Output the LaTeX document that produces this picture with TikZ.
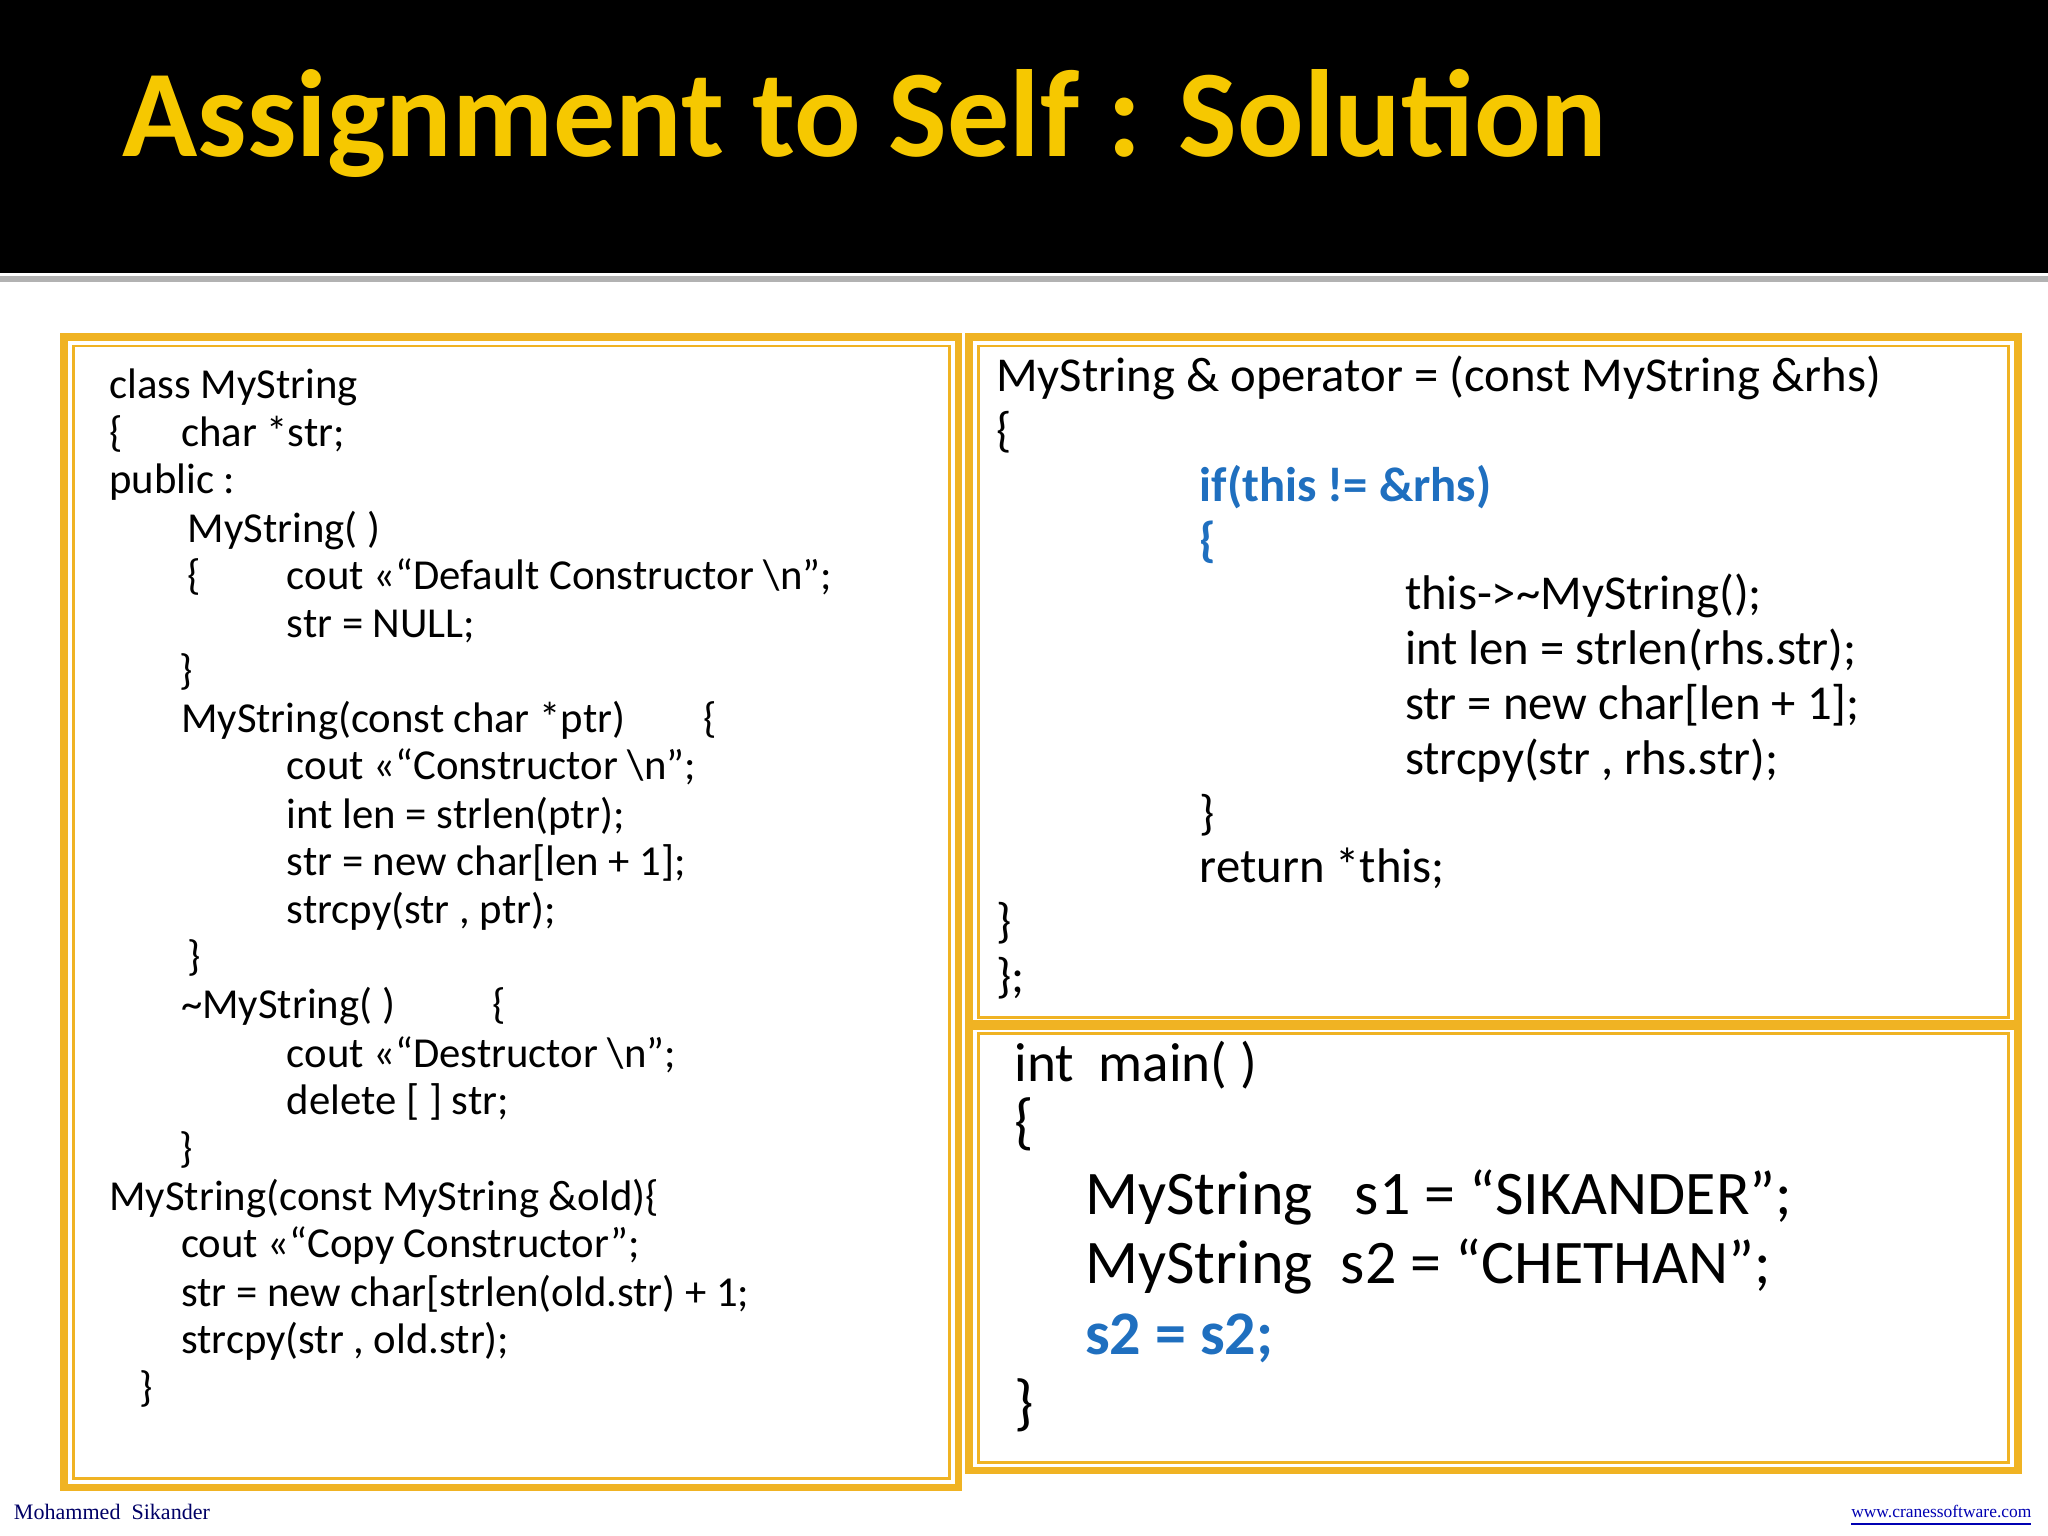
\documentclass[tikz,border=0pt]{standalone}
\usepackage{fontspec}
\setmainfont{Carlito}
\newfontfamily\footfont{Liberation Serif}
\definecolor{orng}{HTML}{F0B323}
\definecolor{ttl}{HTML}{F6C800}
\definecolor{blu}{HTML}{1F6FBF}
\begin{document}
\begin{tikzpicture}[x=0.01cm,y=-0.01cm,
  lc/.style={anchor=base west,inner sep=0,font=\fontsize{9.3}{10}\selectfont},
  rc/.style={anchor=base west,inner sep=0,font=\fontsize{10.6}{11}\selectfont},
  mc/.style={anchor=base west,inner sep=0,font=\fontsize{13.5}{14}\selectfont},
  ob/.style={draw=orng,line width=1.6pt},
  ib/.style={draw=orng,line width=0.6pt}]
\useasboundingbox (0,0) rectangle (1568,1176);
\fill[white] (0,0) rectangle (1568,1176);
\fill[black] (0,0) rectangle (1568,209);
\fill[gray!60] (0,211) rectangle (1568,216);
\node[anchor=base west,inner sep=0,text=ttl,font=\fontsize{27}{30}\bfseries\selectfont] (title) at (93,120) {Assignment to Self : Solution};
% boxes
\draw[ob] (49,258) rectangle (734,1139);
\draw[ib] (56,265) rectangle (727,1132);
\draw[ob] (742,258) rectangle (1545,784);
\draw[ib] (749,265) rectangle (1538,779);
\draw[ob] (742,786) rectangle (1545,1126);
\draw[ib] (749,791) rectangle (1538,1120);
% left code
\node[lc] (l1) at (83,305) {class MyString};
\node[lc] (l2a) at (83,342) {\{}; \node[lc] (l2) at (138,342) {char *str;};
\node[lc] (l3) at (83,378) {public :};
\node[lc] (l4) at (143,415) {MyString( )};
\node[lc] (l5a) at (143,451) {\{}; \node[lc] (l5) at (219,451) {cout <<“Default Constructor \textbackslash n”;};
\node[lc] (l6) at (219,488) {str = NULL;};
\node[lc] (l7) at (137,524) {\}};
\node[lc] (l8) at (138,561) {MyString(const char *ptr)}; \node[lc] (l8b) at (538,561) {\{};
\node[lc] (l9) at (219,597) {cout <<“Constructor \textbackslash n”;};
\node[lc] (l10) at (219,634) {int len = strlen(ptr);};
\node[lc] (l11) at (219,670) {str = new char[len + 1];};
\node[lc] (l12) at (219,707) {strcpy(str , ptr);};
\node[lc] (l13) at (143,743) {\}};
\node[lc] (l14) at (138,780) {\textasciitilde MyString( )}; \node[lc] (l14b) at (376,780) {\{};
\node[lc] (l15) at (219,817) {cout <<“Destructor \textbackslash n”;};
\node[lc] (l16) at (219,853) {delete [ ] str;};
\node[lc] (l17) at (137,890) {\}};
\node[lc] (l18) at (83,927) {MyString(const MyString \&old)\{};
\node[lc] (l19) at (138,963) {cout <<“Copy Constructor”;};
\node[lc] (l20) at (138,1000) {str = new char[strlen(old.str) + 1;};
\node[lc] (l21) at (138,1036) {strcpy(str , old.str);};
\node[lc] (l22) at (106,1073) {\}};
% right top
\node[rc] (r1) at (762,300) {MyString \& operator = (const MyString \&rhs)};
\node[rc] (r2) at (762,342) {\{};
\node[rc,text=blu,font=\fontsize{10.6}{11}\bfseries\selectfont] (r3) at (918,384) {if(this != \&rhs)};
\node[rc,text=blu,font=\fontsize{10.6}{11}\bfseries\selectfont] (r4) at (918,426) {\{};
\node[rc] (r5) at (1075,467) {this->\textasciitilde MyString();};
\node[rc] (r6) at (1075,509) {int len = strlen(rhs.str);};
\node[rc] (r7) at (1075,551) {str = new char[len + 1];};
\node[rc] (r8) at (1075,593) {strcpy(str , rhs.str);};
\node[rc] (r9) at (918,635) {\}};
\node[rc] (r10) at (918,676) {return *this;};
\node[rc] (r11) at (762,718) {\}};
\node[rc] (r12) at (762,760) {\};};
% main
\node[mc,font=\fontsize{12}{13}\selectfont] (m1) at (776,828) {int\ \ main( )};
\node[mc] (m2) at (776,875) {\{};
\node[mc] (m3) at (830,930) {MyString\ \ \ s1 = “SIKANDER”;};
\node[mc] (m4) at (830,983) {MyString\ \ s2 = “CHETHAN”;};
\node[mc,text=blu,font=\fontsize{13.5}{14}\bfseries\selectfont] (m5) at (830,1037) {s2 = s2;};
\node[mc] (m6) at (776,1090) {\}};
% footer
\node[anchor=base west,inner sep=0,text=blue!40!black,font=\footfont\fontsize{4.8}{5}\selectfont] (f1) at (10,1163) {Mohammed\ \ Sikander};
\node[anchor=base east,inner sep=0,text=blue!70!black,font=\footfont\fontsize{3.8}{4}\selectfont] (f2) at (1556,1162) {\underline{www.cranessoftware.com}};
\end{tikzpicture}
\end{document}
